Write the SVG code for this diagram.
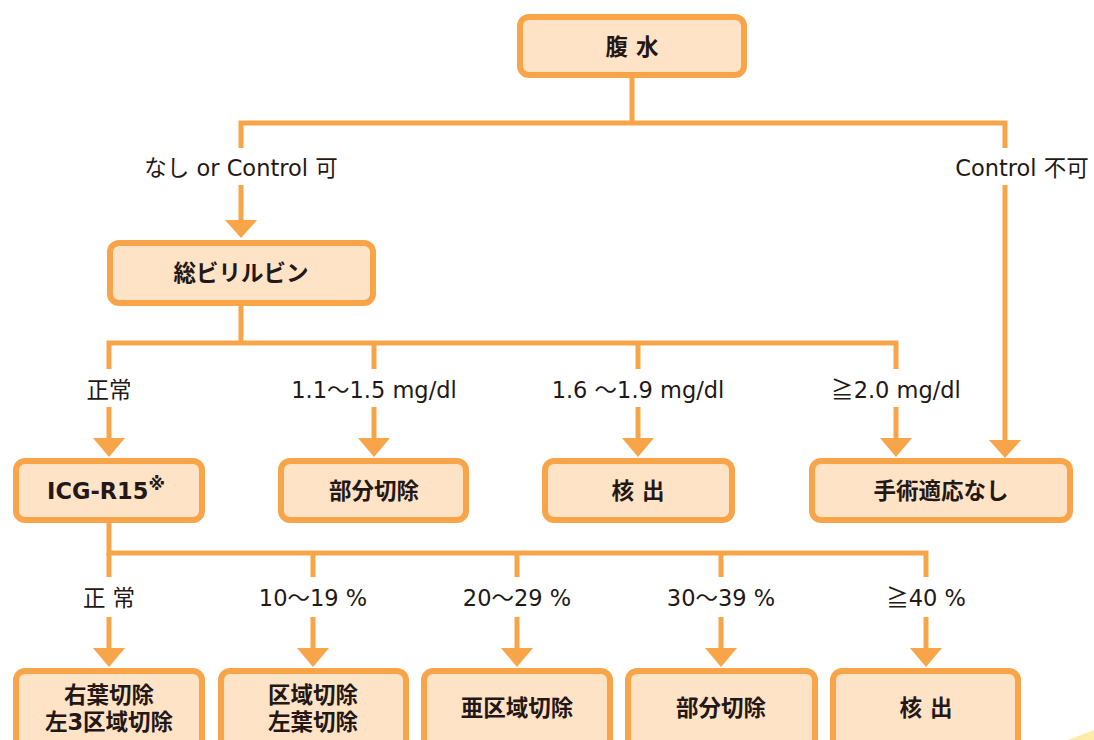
<svg xmlns="http://www.w3.org/2000/svg" width="1094" height="740" viewBox="0 0 1094 740">
<defs>
<style>
.box{fill:#FEE3C7;stroke:#F8A54A;stroke-width:6}
.ln{fill:none;stroke:#F8A54A;stroke-width:5;stroke-linejoin:miter}
.ah{fill:#F8A54A}
.bt{font-family:"DejaVu Sans","Noto Sans CJK JP",sans-serif;font-size:22.5px;font-weight:700;fill:#231815;text-anchor:middle}
.lb{font-family:"DejaVu Sans","Noto Sans CJK JP",sans-serif;font-size:22.5px;fill:#231815;text-anchor:middle}
.cjk{font-family:"Noto Sans CJK JP",sans-serif}
</style>
</defs>
<rect width="1094" height="740" fill="#fff"/>
<polygon points="1068,740 1094,730 1094,740" fill="#FDEBA6"/>
<g id="connectors">
<path class="ln" d="M632 78 V123"/>
<path class="ln" d="M241 148 V123 H1005 V148"/>
<path class="ln" d="M241 185 V222"/>
<polygon class="ah" points="225,220 257,220 241,238"/>
<path class="ln" d="M1005 185 V442"/>
<polygon class="ah" points="989,440 1021,440 1005,458"/>
<path class="ln" d="M241 306 V343"/>
<path class="ln" d="M109 369 V343 H896 V369"/>
<path class="ln" d="M374 343 V369"/>
<path class="ln" d="M638 343 V369"/>
<path class="ln" d="M109 407 V440 M374 407 V440 M638 407 V440 M896 407 V440"/>
<polygon class="ah" points="93,438 125,438 109,457"/>
<polygon class="ah" points="358,438 390,438 374,457"/>
<polygon class="ah" points="622,438 654,438 638,457"/>
<polygon class="ah" points="880,438 912,438 896,457"/>
<path class="ln" d="M109 523 V553 H926 V577"/>
<path class="ln" d="M109 553 V577 M313 553 V577 M517 553 V577 M721 553 V577"/>
<path class="ln" d="M109 617 V650 M313 617 V650 M517 617 V650 M721 617 V650 M926 617 V650"/>
<polygon class="ah" points="93,648 125,648 109,667"/>
<polygon class="ah" points="297,648 329,648 313,667"/>
<polygon class="ah" points="501,648 533,648 517,667"/>
<polygon class="ah" points="705,648 737,648 721,667"/>
<polygon class="ah" points="910,648 942,648 926,667"/>
<text class="lb" x="241" y="176">なし or Control 可</text>
<text class="lb" x="1022" y="176">Control 不可</text>
<text class="lb" x="109" y="398">正常</text>
<text class="lb" x="374" y="398">1.1～1.5 mg/dl</text>
<text class="lb" x="638" y="398">1.6 ～1.9 mg/dl</text>
<text class="lb" x="896" y="398"><tspan class="cjk">≧</tspan>2.0 mg/dl</text>
<text class="lb" x="109" y="606">正 常</text>
<text class="lb" x="313" y="606">10～19 %</text>
<text class="lb" x="517" y="606">20～29 %</text>
<text class="lb" x="721" y="606">30～39 %</text>
<text class="lb" x="926" y="606"><tspan class="cjk">≧</tspan>40 %</text>
</g>
<g id="n-fukusui"><rect class="box" x="520" y="17" width="224" height="58" rx="9"/><text class="bt" x="632" y="55">腹 水</text></g>
<g id="n-bilirubin"><rect class="box" x="110" y="243" width="263" height="60" rx="9"/><text class="bt" x="241" y="281">総ビリルビン</text></g>
<g id="n-icg"><rect class="box" x="16" y="461" width="186" height="59" rx="9"/><text class="bt" x="106" y="499">ICG-R15<tspan font-size="17" dy="-9">※</tspan></text></g>
<g id="n-bubun1"><rect class="box" x="281" y="461" width="185" height="59" rx="9"/><text class="bt" x="374" y="499">部分切除</text></g>
<g id="n-kakushutsu1"><rect class="box" x="545" y="461" width="187" height="59" rx="9"/><text class="bt" x="638" y="499">核 出</text></g>
<g id="n-tekiou"><rect class="box" x="812" y="461" width="258" height="59" rx="9"/><text class="bt" x="941" y="499">手術適応なし</text></g>
<g id="n-uyou"><rect class="box" x="16" y="671" width="186" height="100" rx="9"/><text class="bt" x="109" y="703">右葉切除</text><text class="bt" x="109" y="730">左3区域切除</text></g>
<g id="n-kuiki"><rect class="box" x="221" y="671" width="185" height="100" rx="9"/><text class="bt" x="313" y="703">区域切除</text><text class="bt" x="313" y="730">左葉切除</text></g>
<g id="n-akuiki"><rect class="box" x="424" y="671" width="186" height="100" rx="9"/><text class="bt" x="517" y="716">亜区域切除</text></g>
<g id="n-bubun2"><rect class="box" x="628" y="671" width="187" height="100" rx="9"/><text class="bt" x="721" y="716">部分切除</text></g>
<g id="n-kakushutsu2"><rect class="box" x="833" y="671" width="185" height="100" rx="9"/><text class="bt" x="926" y="716">核 出</text></g>
</svg>
